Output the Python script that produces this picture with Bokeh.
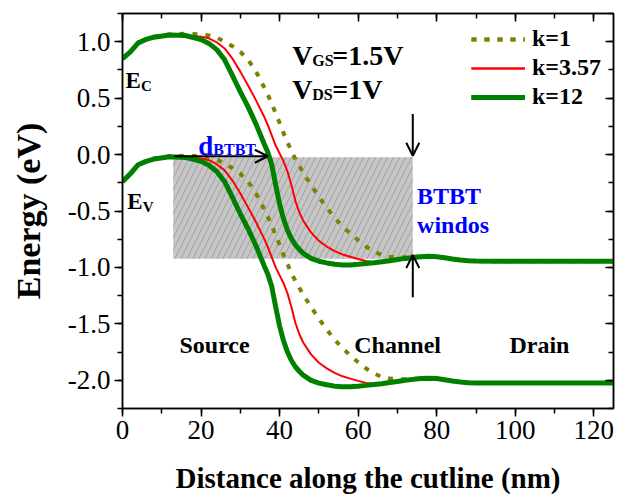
from bokeh.plotting import figure
from bokeh.models import (Range1d, LinearAxis, SingleIntervalTicker, PrintfTickFormatter,
                          CustomJSTickFormatter, Label, Arrow, OpenHead, Legend, LegendItem,
                          ColumnDataSource)
from bokeh.embed import file_html
from bokeh.resources import INLINE

# ---------------- data ----------------
x_nm = [0, 2, 4, 6, 8, 12, 16, 20, 22, 24, 26, 28, 30, 32, 34, 36, 37, 38, 39, 40, 41, 42, 43,
        44, 45, 46, 48, 50, 52, 54, 56, 58, 60, 62, 64, 66, 68, 70, 72, 74, 76, 78, 80, 82, 84,
        86, 88, 90, 95, 100, 110, 125]

ec_k12 = [0.85, 0.91, 0.99, 1.02, 1.04, 1.06, 1.055, 1.02, 0.985, 0.93, 0.84, 0.70, 0.555, 0.42,
          0.27, 0.10, 0.02, -0.09, -0.27, -0.44, -0.57, -0.67, -0.745, -0.80, -0.84, -0.875,
          -0.92, -0.945, -0.96, -0.972, -0.978, -0.978, -0.972, -0.965, -0.958, -0.95, -0.94,
          -0.93, -0.92, -0.912, -0.905, -0.902, -0.905, -0.915, -0.926, -0.935, -0.941, -0.944,
          -0.945, -0.945, -0.945, -0.945]
ev_k12 = [-0.24, -0.17, -0.09, -0.06, -0.04, -0.02, -0.025, -0.06, -0.095, -0.15, -0.24, -0.38,
          -0.525, -0.66, -0.81, -0.98, -1.06, -1.17, -1.35, -1.52, -1.65, -1.75, -1.825, -1.88,
          -1.92, -1.955, -2.00, -2.025, -2.04, -2.052, -2.058, -2.058, -2.052, -2.045, -2.038,
          -2.03, -2.02, -2.01, -2.00, -1.992, -1.985, -1.982, -1.985, -1.995, -2.006, -2.015,
          -2.021, -2.024, -2.025, -2.025, -2.025, -2.025]

ec_k357 = [0.85, 0.91, 0.99, 1.02, 1.04, 1.055, 1.055, 1.045, 1.03, 0.995, 0.94, 0.85, 0.735,
           0.61, 0.48, 0.34, 0.26, 0.17, 0.08, 0.01, -0.06, -0.15, -0.27, -0.41, -0.51, -0.585,
           -0.69, -0.765, -0.815, -0.855, -0.885, -0.905, -0.925, -0.943, -0.953, -0.95, -0.94,
           -0.93, -0.92, -0.912, -0.905, -0.902, -0.905, -0.915, -0.926, -0.935, -0.941, -0.944,
           -0.945, -0.945, -0.945, -0.945]
ev_k357 = [-0.24, -0.17, -0.09, -0.06, -0.04, -0.025, -0.025, -0.035, -0.05, -0.085, -0.14,
           -0.23, -0.345, -0.47, -0.60, -0.74, -0.82, -0.91, -1.00, -1.07, -1.14, -1.23, -1.35,
           -1.49, -1.59, -1.665, -1.77, -1.845, -1.895, -1.935, -1.965, -1.985, -2.005, -2.023,
           -2.033, -2.03, -2.02, -2.01, -2.00, -1.992, -1.985, -1.982, -1.985, -1.995, -2.006,
           -2.015, -2.021, -2.024, -2.025, -2.025, -2.025, -2.025]

ec_k1 = [0.85, 0.91, 0.99, 1.025, 1.045, 1.065, 1.07, 1.065, 1.055, 1.035, 1.00, 0.96, 0.91,
         0.84, 0.735, 0.60, 0.53, 0.45, 0.365, 0.28, 0.19, 0.11, 0.03, -0.04, -0.10, -0.16,
         -0.27, -0.375, -0.47, -0.56, -0.635, -0.70, -0.76, -0.815, -0.86, -0.89, -0.905, -0.91,
         -0.91, -0.907, -0.903, -0.901, -0.905, -0.915, -0.926, -0.935, -0.941, -0.944, -0.945,
         -0.945, -0.945, -0.945]
ev_k1 = [-0.24, -0.17, -0.09, -0.055, -0.035, -0.015, -0.01, -0.015, -0.025, -0.045, -0.08,
         -0.12, -0.17, -0.24, -0.345, -0.48, -0.55, -0.63, -0.715, -0.80, -0.89, -0.97, -1.05,
         -1.12, -1.18, -1.24, -1.35, -1.455, -1.55, -1.64, -1.715, -1.78, -1.84, -1.895, -1.94,
         -1.97, -1.985, -1.99, -1.99, -1.987, -1.983, -1.981, -1.985, -1.995, -2.006, -2.015,
         -2.021, -2.024, -2.025, -2.025, -2.025, -2.025]

series_labels = ["k=1", "k=3.57", "k=12"]

# BTBT window box (nm, eV)
win_left = [12.9]
win_right = [73.9]
win_top = [-0.024]
win_bottom = [-0.923]

x_ticks_interval = 20
y_ticks_interval = 0.5

# ---------------- figure ----------------
FONT = "Liberation Serif"

p = figure(width=618, height=496, output_backend="svg", toolbar_location=None,
           x_range=Range1d(0, 125), y_range=Range1d(-2.25, 1.25),
           min_border_left=122, min_border_right=5, min_border_top=13, min_border_bottom=88,
           x_axis_label="Distance along the cutline (nm)", y_axis_label="Energy (eV)")
p.xgrid.visible = False
p.ygrid.visible = False
p.outline_line_color = "black"
p.outline_line_width = 1.5
p.background_fill_color = "white"
p.border_fill_color = "white"

p.xaxis.ticker = SingleIntervalTicker(interval=x_ticks_interval, num_minor_ticks=2)
p.yaxis.ticker = SingleIntervalTicker(interval=y_ticks_interval, num_minor_ticks=2)
p.xaxis.formatter = PrintfTickFormatter(format="%d")
p.yaxis.formatter = PrintfTickFormatter(format="%.1f")

for ax in (p.xaxis[0], p.yaxis[0]):
    ax.axis_line_width = 1.5
    ax.major_tick_line_width = 1.5
    ax.minor_tick_line_width = 1.5
    ax.major_tick_in = 0
    ax.major_tick_out = 8
    ax.minor_tick_in = 0
    ax.minor_tick_out = 5
    ax.major_label_text_font = FONT
    ax.major_label_text_font_size = "27px"
    ax.major_label_text_color = "black"
    ax.axis_label_text_font = FONT
    ax.axis_label_text_font_style = "bold"
    ax.axis_label_text_color = "black"
p.xaxis.axis_label_text_font_size = "29px"
p.yaxis.axis_label_text_font_size = "34px"
p.xaxis.major_label_standoff = 4
p.xaxis.axis_label_standoff = 20
p.yaxis.major_label_standoff = 4
p.yaxis.axis_label_standoff = 18

top_ax = LinearAxis(ticker=SingleIntervalTicker(interval=x_ticks_interval, num_minor_ticks=2),
                    formatter=CustomJSTickFormatter(code="return ''"),
                    major_label_text_font_size="1px", major_label_standoff=0,
                    major_tick_in=8, major_tick_out=0, minor_tick_in=5, minor_tick_out=0,
                    axis_line_width=1.5, major_tick_line_width=1.5, minor_tick_line_width=1.5)
right_ax = LinearAxis(ticker=SingleIntervalTicker(interval=y_ticks_interval, num_minor_ticks=2),
                      formatter=CustomJSTickFormatter(code="return ''"),
                      major_label_text_font_size="1px", major_label_standoff=0,
                      major_tick_in=8, major_tick_out=0, minor_tick_in=5, minor_tick_out=0,
                      axis_line_width=1.5, major_tick_line_width=1.5, minor_tick_line_width=1.5)
p.add_layout(top_ax, "above")
p.add_layout(right_ax, "right")

# BTBT window
p.quad(left=win_left, right=win_right, top=win_top, bottom=win_bottom,
       fill_color="#c6c6c6", line_color=None, hatch_pattern="/", hatch_color="#888888",
       hatch_scale=12, hatch_weight=0.6)

src = ColumnDataSource(dict(x=x_nm, ec1=ec_k1, ev1=ev_k1, ec3=ec_k357, ev3=ev_k357,
                            ec12=ec_k12, ev12=ev_k12))

r1a = p.line("x", "ec1", source=src, line_color="#808000", line_width=4, line_dash="5 8")
r1b = p.line("x", "ev1", source=src, line_color="#808000", line_width=4, line_dash="5 8")
r3a = p.line("x", "ec3", source=src, line_color="#ff0000", line_width=2)
r3b = p.line("x", "ev3", source=src, line_color="#ff0000", line_width=2)
r12a = p.line("x", "ec12", source=src, line_color="#008000", line_width=5)
r12b = p.line("x", "ev12", source=src, line_color="#008000", line_width=5)

legend = Legend(items=[LegendItem(label=series_labels[0], renderers=[r1a, r1b]),
                       LegendItem(label=series_labels[1], renderers=[r3a, r3b]),
                       LegendItem(label=series_labels[2], renderers=[r12a, r12b])],
                location="top_right", orientation="vertical",
                label_text_font=FONT, label_text_font_style="bold", label_text_font_size="24px",
                label_text_color="black", glyph_width=54, glyph_height=26, label_height=26,
                label_standoff=7, spacing=2, padding=0, margin=12, border_line_color=None,
                background_fill_alpha=0)
p.add_layout(legend)


def lab(x, y, text, size, color="black", xo=0, yo=0, style="bold"):
    p.add_layout(Label(x=x, y=y, text=text, x_offset=xo, y_offset=yo,
                       text_font=FONT, text_font_size=size, text_font_style=style,
                       text_color=color, text_baseline="alphabetic", text_align="left"))


# band labels
lab(0.76, 0.655, "E", "23px")
lab(0.76, 0.655, "C", "15px", xo=15.5, yo=-5)
lab(1.2, -0.413, "E", "23px")
lab(1.2, -0.413, "V", "15px", xo=15.5, yo=-6)

# bias annotations
lab(43.2, 0.876, "V", "28px")
lab(43.2, 0.876, "GS", "16px", xo=20, yo=-5)
lab(43.2, 0.876, "=1.5V", "28px", xo=40)
lab(43.2, 0.575, "V", "28px")
lab(43.2, 0.575, "DS", "16px", xo=20, yo=-5)
lab(43.2, 0.575, "=1V", "28px", xo=40)

# d_BTBT
lab(19.3, 0.08, "d", "27px", color="#0000ff")
lab(19.3, 0.08, "BTBT", "16px", color="#0000ff", xo=15, yo=-4)

# BTBT window text
lab(75.0, -0.363, "BTBT", "24px", color="#0000ff")
lab(75.0, -0.628, "windos", "24px", color="#0000ff")

# regions
lab(14.5, -1.69, "Source", "24px")
lab(59.0, -1.69, "Channel", "24px")
lab(98.5, -1.69, "Drain", "24px")

# arrows
p.add_layout(Arrow(end=OpenHead(size=13, line_width=2, line_color="black"),
                   x_start=13.2, y_start=-0.015, x_end=37.0, y_end=-0.015,
                   line_width=2, line_color="black"))
p.add_layout(Arrow(end=OpenHead(size=13, line_width=2, line_color="black"),
                   x_start=73.9, y_start=0.36, x_end=73.9, y_end=-0.01,
                   line_width=2, line_color="black"))
p.add_layout(Arrow(end=OpenHead(size=13, line_width=2, line_color="black"),
                   x_start=73.9, y_start=-1.265, x_end=73.9, y_end=-0.89,
                   line_width=2, line_color="black"))

open("out.html", "w").write(file_html(p, INLINE))
